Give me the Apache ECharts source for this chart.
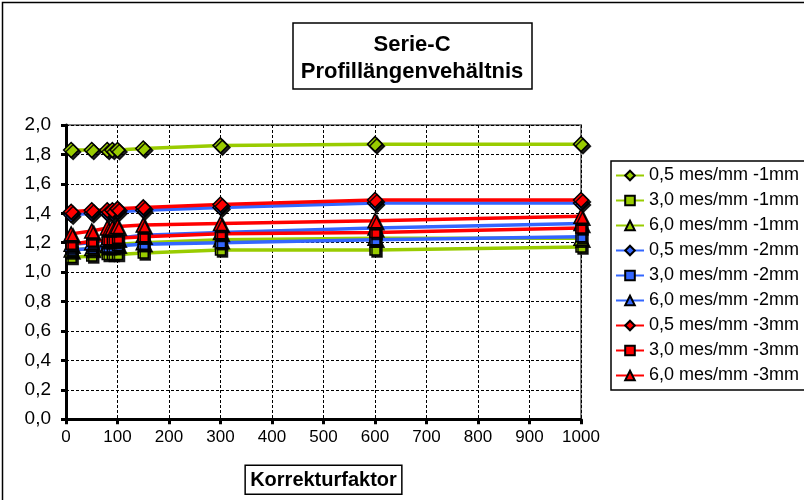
<!DOCTYPE html>
<html><head><meta charset="utf-8">
<script src="https://cdn.jsdelivr.net/npm/echarts@6/dist/echarts.min.js"></script>
<style>html,body{margin:0;padding:0;background:#fff}#c{width:804px;height:500px}</style>
</head><body><div id="c"></div>
<script>
// Korrekturfaktor values (x)
const xValues = [10, 50, 80, 90, 100, 150, 300, 600, 1000];
const seriesNames = [
  '0,5 mes/mm -1mm', '3,0 mes/mm -1mm', '6,0 mes/mm -1mm',
  '0,5 mes/mm -2mm', '3,0 mes/mm -2mm', '6,0 mes/mm -2mm',
  '0,5 mes/mm -3mm', '3,0 mes/mm -3mm', '6,0 mes/mm -3mm'
];
const s05_1mm = [1.83, 1.83, 1.83, 1.83, 1.83, 1.84, 1.86, 1.87, 1.87];
const s30_1mm = [1.10, 1.11, 1.12, 1.12, 1.12, 1.13, 1.15, 1.15, 1.17];
const s60_1mm = [1.15, 1.16, 1.18, 1.18, 1.19, 1.20, 1.22, 1.23, 1.23];
const s05_2mm = [1.39, 1.40, 1.40, 1.40, 1.41, 1.42, 1.44, 1.47, 1.47];
const s30_2mm = [1.15, 1.16, 1.17, 1.17, 1.18, 1.19, 1.20, 1.22, 1.24];
const s60_2mm = [1.19, 1.20, 1.22, 1.22, 1.23, 1.25, 1.27, 1.30, 1.33];
const s05_3mm = [1.41, 1.42, 1.42, 1.42, 1.43, 1.44, 1.46, 1.49, 1.49];
const s30_3mm = [1.19, 1.21, 1.22, 1.22, 1.23, 1.24, 1.26, 1.27, 1.30];
const s60_3mm = [1.26, 1.28, 1.30, 1.30, 1.31, 1.32, 1.33, 1.35, 1.38];

const allValues = [s05_1mm, s30_1mm, s60_1mm, s05_2mm, s30_2mm, s60_2mm, s05_3mm, s30_3mm, s60_3mm];
const colors = ['#99CC00','#99CC00','#99CC00','#3366FF','#3366FF','#3366FF','#FF0000','#FF0000','#FF0000'];
const symbols = ['diamond','rect','triangle','diamond','rect','triangle','diamond','rect','triangle'];
const sizes = {diamond: 15, rect: 10, triangle: 14};

const FONT = 'Liberation Sans, Arial, sans-serif';
const chart = echarts.init(document.getElementById('c'), null, {renderer: 'canvas'});

const series = allValues.map((vals, i) => ({
  name: seriesNames[i],
  type: 'line',
  data: xValues.map((x, j) => [x, vals[j]]),
  symbol: symbols[i],
  symbolSize: sizes[symbols[i]],
  showAllSymbol: true,
  lineStyle: {color: colors[i], width: 3.5},
  itemStyle: {color: colors[i], borderColor: '#000', borderWidth: 1.5,
    shadowColor: 'rgba(0,0,0,0.85)', shadowOffsetX: 2, shadowOffsetY: 2, shadowBlur: 0},
  emphasis: {disabled: true},
  animation: false
}));

chart.setOption({
  animation: false,
  backgroundColor: '#fff',
  grid: {left: 66, right: 223, top: 125, bottom: 79, show: true, borderColor: '#808080', borderWidth: 2, backgroundColor: 'transparent'},
  xAxis: {
    type: 'value', min: 0, max: 1000, interval: 100,
    name: 'Korrekturfaktor', nameLocation: 'middle', nameGap: 46,
    nameTextStyle: {fontFamily: FONT, fontWeight: 'bold', fontSize: 20, color: '#000',
      borderColor: '#000', borderWidth: 1.5, padding: [5, 5, 4, 5]},
    axisLine: {show: true, onZero: false, lineStyle: {color: '#000', width: 3}},
    axisTick: {show: true, length: 5, lineStyle: {color: '#000', width: 3}},
    axisLabel: {fontFamily: FONT, fontSize: 17, color: '#000', margin: 10,
      formatter: v => String(v)},
    splitLine: {show: true, lineStyle: {color: '#000', width: 1, type: [3, 2]}}
  },
  yAxis: {
    type: 'value', min: 0, max: 2, interval: 0.2,
    axisLine: {show: true, lineStyle: {color: '#000', width: 3}},
    axisTick: {show: true, length: 5, lineStyle: {color: '#000', width: 3}},
    axisLabel: {fontFamily: FONT, fontSize: 19, color: '#000', margin: 15,
      formatter: v => v.toFixed(1).replace('.', ',')},
    splitLine: {show: true, lineStyle: {color: '#000', width: 1, type: [3, 2]}}
  },
  legend: {
    orient: 'vertical', left: 611, top: 161,
    itemWidth: 28, itemHeight: 12, itemGap: 6,
    textStyle: {fontFamily: FONT, fontSize: 18, color: '#000', lineHeight: 19},
    borderColor: '#000', borderWidth: 1.5, padding: [5, 20, 5, 4],
    backgroundColor: '#fff',
    data: seriesNames
  },
  graphic: [
    {type: 'rect', left: 0, top: 0, shape: {x: 0, y: 0, width: 803, height: 499},
      style: {fill: 'none', stroke: '#000', lineWidth: 1.5}, silent: true, z: 100},
    {type: 'rect', shape: {x: 293, y: 23, width: 239, height: 66},
      style: {fill: '#fff', stroke: '#000', lineWidth: 1.5}, silent: true},
    {type: 'text', x: 412, y: 45, style: {text: 'Serie-C', fontFamily: FONT, fontWeight: 'bold',
      fontSize: 22, fill: '#000', align: 'center', verticalAlign: 'middle'}, silent: true},
    {type: 'text', x: 412, y: 72, style: {text: 'Profillängenvehältnis', fontFamily: FONT, fontWeight: 'bold',
      fontSize: 22, fill: '#000', align: 'center', verticalAlign: 'middle'}, silent: true}
  ],
  series: series
});
</script>
</body></html>
